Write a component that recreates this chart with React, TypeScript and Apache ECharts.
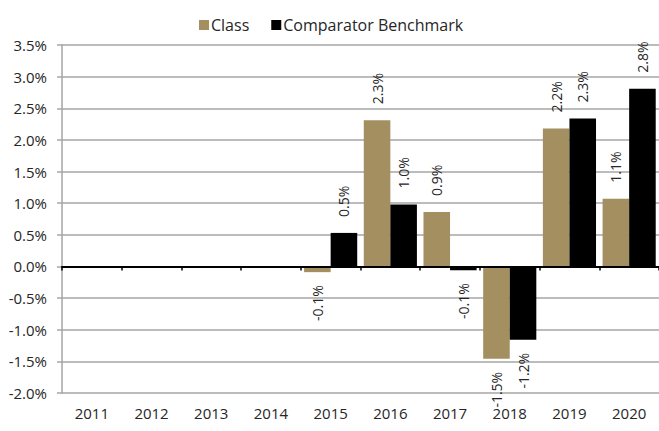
import React, { useEffect, useRef } from "react";
import * as echarts from "echarts";

const categories = ["2011", "2012", "2013", "2014", "2015", "2016", "2017", "2018", "2019", "2020"];
const classValues: (number | null)[] = [null, null, null, null, -0.09, 2.31, 0.86, -1.46, 2.18, 1.07];
const benchmarkValues: (number | null)[] = [null, null, null, null, 0.53, 0.98, -0.06, -1.16, 2.34, 2.81];
const seriesNames = ["Class", "Comparator Benchmark"];
const colors = ["#A48F60", "#000000"];

const FONT = "Open Sans";
const TEXT = "#262626";

function toData(vals: (number | null)[]) {
  return vals.map((v) => {
    if (v === null) return { value: null };
    if (v < 0) {
      return {
        value: v,
        label: { position: "bottom", align: "right", verticalAlign: "middle", distance: 13 },
      };
    }
    return { value: v };
  });
}

export default function App() {
  const ref = useRef<HTMLDivElement>(null);
  useEffect(() => {
    if (!ref.current) return;
    const chart = echarts.init(ref.current, null, { renderer: "svg" });
    const label = {
      show: true,
      position: "top",
      rotate: 90,
      align: "left",
      verticalAlign: "middle",
      distance: 16,
      color: TEXT,
      fontFamily: FONT,
      fontSize: 14,
      formatter: (p: any) => (p.value == null ? "" : Number(p.value).toFixed(1) + "%"),
    };
    chart.setOption({
      animation: false,
      textStyle: { fontFamily: FONT },
      legend: {
        top: 12,
        left: 194,
        icon: "rect",
        itemWidth: 10,
        itemHeight: 10,
        itemGap: 22,
        textStyle: { fontFamily: FONT, fontSize: 16, color: TEXT, padding: [0, 0, 0, -3] },
        data: seriesNames,
      },
      grid: { left: 62, right: 0, top: 45, bottom: 38, containLabel: false },
      xAxis: {
        type: "category",
        data: categories,
        axisLine: { onZero: true, lineStyle: { color: "#000", width: 2 } },
        axisTick: { show: true, length: 4, lineStyle: { color: "#000", width: 1.5 } },
        axisLabel: { color: TEXT, fontFamily: FONT, fontSize: 15, margin: 12 },
        splitLine: { show: false },
        z: 10,
      },
      yAxis: {
        type: "value",
        min: -2,
        max: 3.5,
        interval: 0.5,
        axisLine: { show: true, lineStyle: { color: "#a6a6a6", width: 1.5 } },
        axisTick: { show: true, length: 5, lineStyle: { color: "#a6a6a6", width: 1.5 } },
        axisLabel: {
          color: TEXT,
          fontFamily: FONT,
          fontSize: 15,
          margin: 15,
          formatter: (v: number) => v.toFixed(1) + "%",
        },
        splitLine: { show: true, lineStyle: { color: "#a6a6a6", width: 1.5 } },
      },
      series: [
        {
          name: seriesNames[0],
          type: "bar",
          data: toData(classValues),
          itemStyle: { color: colors[0] },
          barGap: "0%",
          barCategoryGap: "11%",
          label,
        },
        {
          name: seriesNames[1],
          type: "bar",
          data: toData(benchmarkValues),
          itemStyle: { color: colors[1] },
          barGap: "0%",
          barCategoryGap: "11%",
          label,
        },
      ],
    });
    return () => chart.dispose();
  }, []);
  return (
    <div
      ref={ref}
      style={{ position: "absolute", left: 0, top: 0, width: 659, height: 431, background: "#fff" }}
    />
  );
}
